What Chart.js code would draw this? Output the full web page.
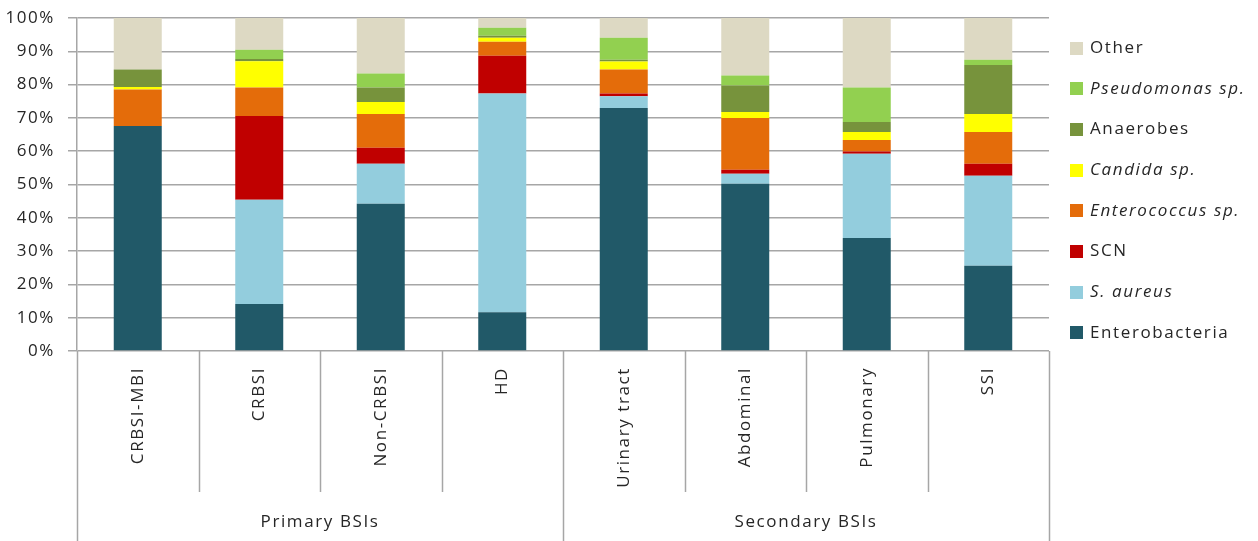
<!DOCTYPE html>
<html>
<head>
<meta charset="utf-8">
<script src="https://cdn.jsdelivr.net/npm/chart.js@4/dist/chart.umd.min.js"></script>
<style>
  html, body { margin: 0; padding: 0; background: #fff; }
  canvas { display: block; }
</style>
</head>
<body>
<canvas id="c" width="1258" height="541"></canvas>
<script>
// ---- Data ----
const categories = ["CRBSI-MBI", "CRBSI", "Non-CRBSI", "HD", "Urinary tract", "Abdominal", "Pulmonary", "SSI"];
const groups = ["Primary BSIs", "Secondary BSIs"];
const groupSizes = [4, 4];
const yTicks = [0, 10, 20, 30, 40, 50, 60, 70, 80, 90, 100];

const enterobacteria = [67.6, 14.1, 44.2, 11.6, 73.0, 50.2, 33.9, 25.6];
const sAureus        = [0.0, 31.3, 12.0, 65.7, 3.5, 3.0, 25.3, 27.0];
const scn            = [0.0, 25.2, 4.8, 11.4, 0.8, 1.2, 0.7, 3.6];
const enterococcus   = [10.9, 8.5, 10.2, 4.2, 7.2, 15.6, 3.5, 9.6];
const candida        = [0.8, 7.9, 3.6, 1.2, 2.4, 1.8, 2.4, 5.4];
const anaerobes      = [5.2, 0.7, 4.3, 0.6, 0.6, 7.9, 3.0, 14.7];
const pseudomonas    = [0.0, 2.8, 4.2, 2.4, 6.6, 3.0, 10.3, 1.6];
const other          = [15.5, 9.5, 16.7, 2.9, 5.9, 17.3, 20.9, 12.5];

const seriesNames  = ["Enterobacteria", "S. aureus", "SCN", "Enterococcus sp.", "Candida sp.", "Anaerobes", "Pseudomonas sp.", "Other"];
const seriesItalic = [false, true, false, true, true, false, true, false];
const seriesColors = ["#215968", "#93CDDD", "#C00000", "#E46C0A", "#FFFF00", "#77933C", "#92D050", "#DDD9C3"];
const seriesData   = [enterobacteria, sAureus, scn, enterococcus, candida, anaerobes, pseudomonas, other];

// ---- Styles ----
const FONT = "'Open Sans', 'Noto Sans', 'DejaVu Sans', sans-serif";
const TEXT = "#262626";
const GRID = "#a6a6a6";
const LS = '1.6px';

const datasets = seriesNames.map((n, i) => ({
  label: n,
  data: seriesData[i],
  backgroundColor: seriesColors[i],
  borderWidth: 0,
  barPercentage: 0.395,
  categoryPercentage: 1.0
}));

const decorPlugin = {
  id: 'decor',
  beforeDraw(chart) {
    chart.ctx.letterSpacing = LS;
  },
  afterDraw(chart) {
    const ctx = chart.ctx;
    const xs = chart.scales.x;
    const area = chart.chartArea;
    const n = categories.length;
    const w = (area.right - area.left) / n;
    ctx.save();
    ctx.letterSpacing = LS;
    // separators
    ctx.strokeStyle = GRID;
    ctx.lineWidth = 1.5;
    const outer = new Set([0]);
    let acc = 0;
    groupSizes.forEach(s => { acc += s; outer.add(acc); });
    for (let i = 0; i <= n; i++) {
      const x = Math.round(xs.getPixelForValue(Math.min(i, n - 1)) + (i === n ? w / 2 : -w / 2));
      const yEnd = outer.has(i) ? 541 : area.bottom + 141;
      ctx.beginPath();
      ctx.moveTo(x + 0.5, area.bottom);
      ctx.lineTo(x + 0.5, yEnd);
      ctx.stroke();
    }
    // category labels (rotated)
    ctx.fillStyle = TEXT;
    ctx.font = `17px ${FONT}`;
    categories.forEach((c, i) => {
      const x = xs.getPixelForValue(i);
      ctx.save();
      ctx.translate(x, area.bottom + 16);
      ctx.rotate(-Math.PI / 2);
      ctx.textAlign = 'right';
      ctx.textBaseline = 'middle';
      ctx.fillText(c, 0, 0);
      ctx.restore();
    });
    // group labels
    let start = 0;
    groups.forEach((g, gi) => {
      const end = start + groupSizes[gi] - 1;
      const x = (xs.getPixelForValue(start) + xs.getPixelForValue(end)) / 2;
      ctx.textAlign = 'center';
      ctx.textBaseline = 'middle';
      ctx.fillText(g, x, area.bottom + 171);
      start = end + 1;
    });
    // legend (reversed order)
    const lx = 1070, tx = 1090, y0 = 48, dy = 40.7;
    for (let k = 0; k < seriesNames.length; k++) {
      const i = seriesNames.length - 1 - k;
      const y = y0 + k * dy;
      ctx.fillStyle = seriesColors[i];
      ctx.fillRect(lx, Math.round(y - 6.5), 13, 13);
      ctx.fillStyle = TEXT;
      ctx.font = `${seriesItalic[i] ? 'italic ' : ''}17px ${FONT}`;
      ctx.textAlign = 'left';
      ctx.textBaseline = 'middle';
      ctx.fillText(seriesNames[i], tx, y);
    }
    ctx.restore();
  }
};

new Chart(document.getElementById('c'), {
  type: 'bar',
  data: { labels: categories, datasets },
  options: {
    responsive: false,
    devicePixelRatio: 1,
    animation: false,
    layout: { padding: { top: 18, right: 209, left: 0, bottom: 0 } },
    plugins: { legend: { display: false }, tooltip: { enabled: false } },
    scales: {
      x: {
        stacked: true,
        ticks: { display: false },
        grid: { display: false },
        border: { display: false },
        afterFit(s) { s.height = 190; }
      },
      y: {
        stacked: true,
        min: 0, max: 100,
        afterBuildTicks(s) { s.ticks = yTicks.map(v => ({ value: v })); },
        ticks: {
          callback: v => v + '%',
          color: TEXT,
          font: { family: FONT, size: 17 },
          padding: 13
        },
        grid: { color: GRID, lineWidth: 1.5, tickLength: 9 },
        border: { color: GRID, width: 1.5 },
        afterFit(s) { s.width = 77; s.paddingTop = 0; s.paddingBottom = 0; }
      }
    }
  },
  plugins: [decorPlugin]
});
</script>
</body>
</html>
